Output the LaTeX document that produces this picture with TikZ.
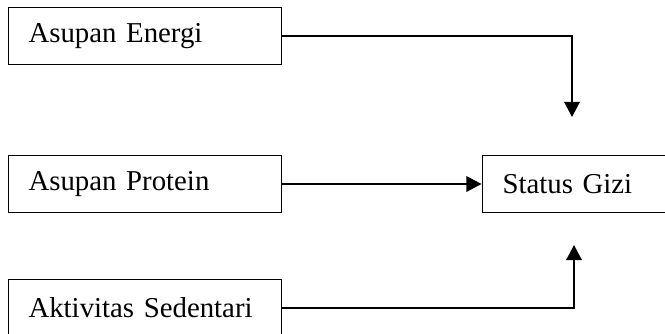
\documentclass[tikz,border=0pt]{standalone}
\usepackage{fontspec}
\setmainfont{Liberation Serif}
\usetikzlibrary{arrows.meta}

\begin{document}
\begin{tikzpicture}[
        factor/.style={draw=black,line width=0.7pt,minimum width=6.825cm,
                       minimum height=1.42cm,inner xsep=14pt,text width=165pt,
                       align=left,font=\fontsize{20.5}{24}\selectfont},
        link/.style={line width=1.3pt,
                     -{Triangle[length=3.8mm,width=3.9mm]}}
      ]
        \useasboundingbox (0,0) rectangle (16.625,8.35);
        \clip (0,0) rectangle (16.625,8.35);
        % the three factors on the left
        \node[factor] (energi) at (3.6125,7.44) {Asupan Energi};
        \node[factor] (protein) at (3.6125,3.75) {Asupan Protein};
        \node[factor] (aktivitas) at (3.6125,0.66) {Aktivitas Sedentari};
        % outcome, runs past the right border
        \node[factor] (gizi) at (15.4625,3.75) {Status Gizi};
        \coordinate (gizi-top) at (14.3,5.425);
        \coordinate (gizi-bot) at (14.35,2.225);
        \draw[link] (energi.east) -| (gizi-top);
        \draw[link] (protein.east) -- (gizi.west);
        \draw[link] (aktivitas.east) -| (gizi-bot);
      \end{tikzpicture}
\end{document}
